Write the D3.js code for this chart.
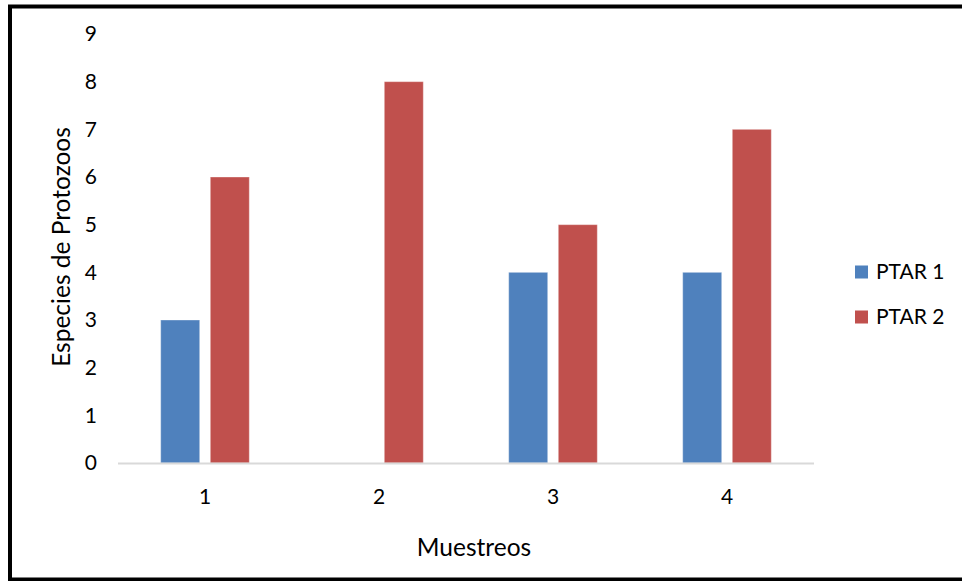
<!DOCTYPE html>
<html><head><meta charset="utf-8">
<script src="https://cdn.jsdelivr.net/npm/d3@7"></script>
<style>html,body{margin:0;padding:0;background:#fff;}svg{display:block;}</style>
</head><body>
<script>
const categories = ["1", "2", "3", "4"];
const seriesNames = ["PTAR 1", "PTAR 2"];
const ptar1 = [3, 0, 4, 4];
const ptar2 = [6, 8, 5, 7];
const yTicks = [0,1,2,3,4,5,6,7,8,9];
const colors = ["#4F81BD", "#C0504D"];

const W = 962, H = 581;
const svg = d3.select("body").append("svg").attr("width", W).attr("height", H);
svg.append("rect").attr("width", W).attr("height", H).attr("fill", "#fff");
// frame
svg.append("path").attr("d", `M${W+5},6.5 L10,6.5 L10,579.5 L${W+5},579.5`)
  .attr("fill", "none").attr("stroke", "#000").attr("stroke-width", 4);

const font = "Lato, 'Open Sans', sans-serif";
const x = d3.scaleBand().domain(categories).range([118, 814]);
const y = d3.scaleLinear().domain([0, 9]).range([463, 34]);
const series = [ptar1, ptar2];
const barW = 39, gap = 10.6;

series.forEach((vals, si) => {
  svg.append("g").selectAll("rect").data(categories).join("rect")
    .attr("x", (c) => x(c) + x.bandwidth()/2 + (si === 0 ? -gap/2 - barW : gap/2))
    .attr("width", barW)
    .attr("y", (c, i) => y(vals[i]))
    .attr("height", (c, i) => y(0) - y(vals[i]))
    .attr("fill", colors[si])
    .attr("stroke", "rgba(255,255,255,0.35)").attr("stroke-width", 1);
});

// x axis line
svg.append("line").attr("x1", 118).attr("x2", 814).attr("y1", 463.5).attr("y2", 463.5)
  .attr("stroke", "#d9d9d9").attr("stroke-width", 2);

// x tick labels
svg.append("g").selectAll("text").data(categories).join("text")
  .attr("x", c => x(c) + x.bandwidth()/2).attr("y", 504)
  .attr("text-anchor", "middle").attr("font-family", font).attr("font-size", 21)
  .attr("fill", "#000").text(c => c);

// y tick labels
svg.append("g").selectAll("text").data(yTicks).join("text")
  .attr("x", 97).attr("y", d => y(d)).attr("dy", "0.35em")
  .attr("text-anchor", "end").attr("font-family", font).attr("font-size", 21)
  .attr("fill", "#000").text(d => d);

// axis titles
svg.append("text").attr("x", 474).attr("y", 556).attr("text-anchor", "middle")
  .attr("font-family", font).attr("font-size", 24.5).attr("fill", "#000").text("Muestreos");
svg.append("text").attr("transform", "translate(70,247) rotate(-90)").attr("text-anchor", "middle")
  .attr("font-family", font).attr("font-size", 24.5).attr("fill", "#000").text("Especies de Protozoos");

// legend
seriesNames.forEach((n, i) => {
  const ly = 272 + i * 45;
  svg.append("rect").attr("x", 855).attr("y", ly - 6.5).attr("width", 13).attr("height", 13).attr("fill", colors[i]);
  svg.append("text").attr("x", 876).attr("y", ly).attr("dy", "0.35em")
    .attr("font-family", font).attr("font-size", 21).attr("fill", "#000").text(n);
});
</script>
</body></html>
